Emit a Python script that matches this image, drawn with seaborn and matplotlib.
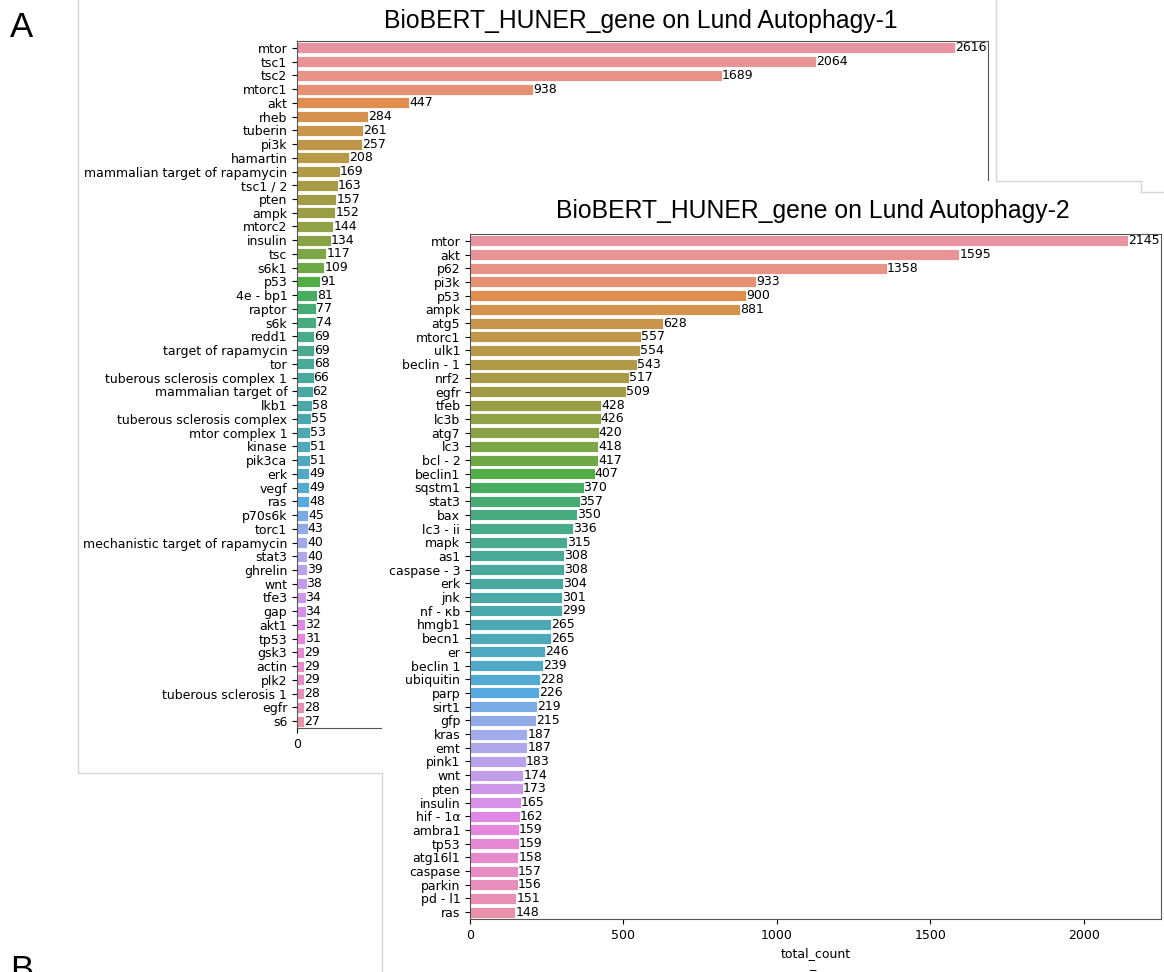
import matplotlib
matplotlib.use("Agg")
import matplotlib.pyplot as plt
import seaborn as sns
import pandas as pd
from matplotlib.patches import Rectangle
from matplotlib.lines import Line2D

genes1 = ["mtor", "tsc1", "tsc2", "mtorc1", "akt", "rheb", "tuberin", "pi3k", "hamartin",
          "mammalian target of rapamycin", "tsc1 / 2", "pten", "ampk", "mtorc2", "insulin", "tsc",
          "s6k1", "p53", "4e - bp1", "raptor", "s6k", "redd1", "target of rapamycin", "tor",
          "tuberous sclerosis complex 1", "mammalian target of", "lkb1", "tuberous sclerosis complex",
          "mtor complex 1", "kinase", "pik3ca", "erk", "vegf", "ras", "p70s6k", "torc1",
          "mechanistic target of rapamycin", "stat3", "ghrelin", "wnt", "tfe3", "gap", "akt1", "tp53",
          "gsk3", "actin", "plk2", "tuberous sclerosis 1", "egfr", "s6"]
counts1 = [2616, 2064, 1689, 938, 447, 284, 261, 257, 208, 169, 163, 157, 152, 144, 134, 117,
           109, 91, 81, 77, 74, 69, 69, 68, 66, 62, 58, 55, 53, 51, 51, 49, 49, 48, 45, 43,
           40, 40, 39, 38, 34, 34, 32, 31, 29, 29, 29, 28, 28, 27]

genes2 = ["mtor", "akt", "p62", "pi3k", "p53", "ampk", "atg5", "mtorc1", "ulk1", "beclin - 1",
          "nrf2", "egfr", "tfeb", "lc3b", "atg7", "lc3", "bcl - 2", "beclin1", "sqstm1", "stat3",
          "bax", "lc3 - ii", "mapk", "as1", "caspase - 3", "erk", "jnk", "nf - κb", "hmgb1", "becn1",
          "er", "beclin 1", "ubiquitin", "parp", "sirt1", "gfp", "kras", "emt", "pink1", "wnt",
          "pten", "insulin", "hif - 1α", "ambra1", "tp53", "atg16l1", "caspase", "parkin", "pd - l1", "ras"]
counts2 = [2145, 1595, 1358, 933, 900, 881, 628, 557, 554, 543, 517, 509, 428, 426, 420, 418,
           417, 407, 370, 357, 350, 336, 315, 308, 308, 304, 301, 299, 265, 265, 246, 239, 228,
           226, 219, 215, 187, 187, 183, 174, 173, 165, 162, 159, 159, 158, 157, 156, 151, 148]

title1 = "BioBERT_HUNER_gene on Lund Autophagy-1"
title2 = "BioBERT_HUNER_gene on Lund Autophagy-2"
xlabel = "total_count"

W, H = 1164, 972
fig = plt.figure(figsize=(W / 100, H / 100), dpi=100)
plt.rcParams['font.family'] = ['DejaVu Sans']
FS = 9


def box(l, t, r, b):
    return [l / W, 1 - b / H, (r - l) / W, (b - t) / H]


def draw(ax, genes, counts):
    df = pd.DataFrame({"gene": genes, "total_count": counts})
    pal = sns.husl_palette(len(genes), l=0.69)
    sns.barplot(data=df, x="total_count", y="gene", hue="gene", palette=pal,
                legend=False, ax=ax, order=genes, hue_order=genes,
                edgecolor="white", linewidth=0.6)
    for c in ax.containers:
        ax.bar_label(c, fontsize=FS, padding=0)
    ax.set_ylabel("")
    ax.tick_params(labelsize=FS)
    for s in ax.spines.values():
        s.set_color("#555555")


ax1 = fig.add_axes(box(297, 41, 988, 728))
draw(ax1, genes1, counts1)
ax1.set_xlabel("")
ax1.set_xticks([0])
ax1.set_xlim(0, max(counts1) * 1.05)
ax1.set_zorder(1)

# white cover for the overlapping second screenshot
cover = Rectangle((382 / W, 0), 1 - 382 / W, 1 - 181 / H, transform=fig.transFigure,
                  facecolor="white", edgecolor="none", zorder=2)
fig.add_artist(cover)

ax2 = fig.add_axes(box(470, 234, 1161, 919))
draw(ax2, genes2, counts2)
ax2.set_xlabel(xlabel, fontsize=FS)
ax2.set_zorder(3)

gray = "#d6d6d6"
segs = [((78, 0), (78, 773)), ((78, 773), (382, 773)), ((382, 773), (382, 972)),
        ((996, 0), (996, 181)), ((996, 181), (1141, 181)), ((1141, 181), (1141, 192)),
        ((1141, 192), (1164, 192))]
for (x0, y0), (x1, y1) in segs:
    fig.add_artist(Line2D([x0 / W, x1 / W], [1 - y0 / H, 1 - y1 / H], transform=fig.transFigure,
                          color=gray, lw=1, zorder=2.5))

fig.text(641 / W, 1 - 28 / H, title1, ha="center", va="baseline", fontsize=17.8,
         family="Liberation Sans", zorder=4)
fig.text(813 / W, 1 - 218 / H, title2, ha="center", va="baseline", fontsize=17.8,
         family="Liberation Sans", zorder=4)
fig.text(10 / W, 1 - 37 / H, "A", ha="left", va="baseline", fontsize=25, family="Liberation Sans")
fig.text(10 / W, 1 - 980 / H, "B", ha="left", va="baseline", fontsize=25, family="Liberation Sans")
fig.text(812 / W, 1 - 968 / H, "_", ha="center", va="baseline", fontsize=FS, zorder=4)

fig.savefig("out.png", dpi=100)
